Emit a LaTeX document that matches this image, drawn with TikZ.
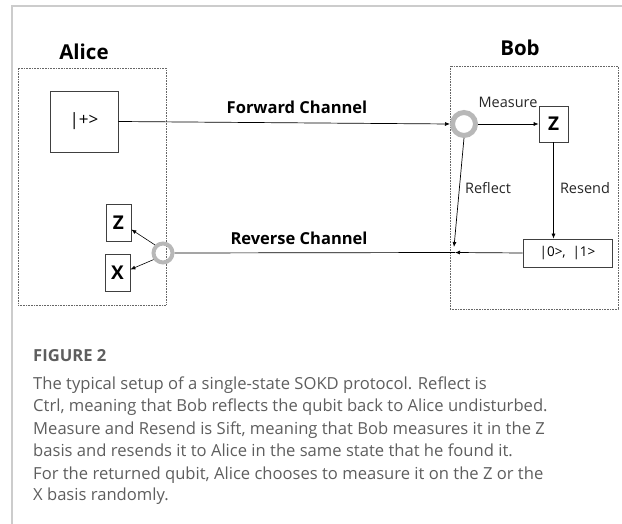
\documentclass[tikz,border=0pt]{standalone}
\usepackage{fontspec}
\setmainfont{Open Sans}
\newfontfamily\capfont{Open Sans}
\usetikzlibrary{arrows.meta}
\definecolor{capgray}{HTML}{5E5E5E}
\definecolor{framegray}{HTML}{CCCCCC}
\definecolor{ringgray}{HTML}{B8B8B8}
\tikzset{
  x=1pt, y=-1pt,
  party/.style={draw=black!60, densely dotted, line width=0.6pt},
  sbox/.style={draw=black!75, line width=0.7pt, inner sep=0pt},
  ring/.style={circle, draw=ringgray, inner sep=0pt},
  arr/.style={-{Latex[length=5pt,width=4pt]}, line width=0.7pt},
  ln/.style={line width=0.7pt},
  title/.style={font=\fontsize{20.5}{22}\selectfont\bfseries},
  chan/.style={font=\fontsize{16.5}{18}\selectfont\bfseries},
  small/.style={font=\fontsize{14.5}{16}\selectfont, text=black!85},
  letter/.style={sbox, font=\fontsize{19}{21}\selectfont\bfseries},
  capline/.style={anchor=base west, inner sep=0pt, text=capgray, font=\capfont\fontsize{16.6}{20}\selectfont}
}
\begin{document}
\begin{tikzpicture}
\useasboundingbox (0,0) rectangle (622,524);
% card frame
\draw[framegray, line width=1.2pt] (622,6) -- (12,6) -- (12,524);
% party boxes
\node[party, minimum width=148pt, minimum height=237pt] (alicebox) at (92,186.5) {};
\node[party, minimum width=168pt, minimum height=243pt] (bobbox) at (534,187.5) {};
\node[title] (alice) at (84,52) {Alice};
\node[title] (bob) at (520,48) {Bob};
% Alice elements
\node[sbox, minimum width=68pt, minimum height=61pt, font=\fontsize{17}{19}\selectfont] (plus) at (84,121.5) {|+>};
\node[letter, minimum width=25pt, minimum height=37pt] (za) at (118.5,222.5) {Z};
\node[letter, minimum width=25pt, minimum height=37pt] (xa) at (117.5,272.5) {X};
\node[ring, minimum size=19pt, line width=4pt] (circA) at (163,253) {};
% Bob elements
\node[ring, minimum size=23pt, line width=5pt] (circB) at (464,124) {};
\node[letter, minimum width=29pt, minimum height=36pt] (zb) at (553.5,124) {Z};
\node[sbox, minimum width=89pt, minimum height=28pt, font=\fontsize{13.5}{15}\selectfont] (st) at (567.5,253) {|0>,\enspace|1>};
\coordinate (reflend) at (454,247);
\coordinate (revmid) at (455,252.5);
% labels
\node[chan] (fwd) at (297,107) {Forward Channel};
\node[chan] (rev) at (299,238) {Reverse Channel};
\node[small] (meas) at (508,102) {Measure};
\node[small] (refl) at (488,188) {Reflect};
\node[small] (resend) at (585,188) {Resend};
% connectors
\draw[arr] (plus.east) -- (circB.west);
\draw[arr] (circB.east) -- (zb.west);
\draw[arr] (circB.south) -- (reflend);
\draw[arr] (zb.south) -- (zb.south |- st.north);
\draw[arr] (st.west) -- (revmid);
\draw[ln] (revmid) -- (circA.east);
\draw[arr, line width=0.6pt] (circA.135) -- ([yshift=-7pt]za.east);
\draw[arr, line width=0.6pt] (circA.215) -- ([yshift=3pt]xa.east);
% caption
\node[capline, font=\capfont\fontsize{16.6}{20}\selectfont\bfseries] (fig) at (33,361) {FIGURE 2};
\node[capline] (c1) at (33,389) {The typical setup of a single-state SOKD protocol. Reflect is};
\node[capline] (c2) at (33,411.5) {Ctrl, meaning that Bob reflects the qubit back to Alice undisturbed.};
\node[capline] (c3) at (33,434) {Measure and Resend is Sift, meaning that Bob measures it in the Z};
\node[capline] (c4) at (33,456.5) {basis and resends it to Alice in the same state that he found it.};
\node[capline] (c5) at (33,479) {For the returned qubit, Alice chooses to measure it on the Z or the};
\node[capline] (c6) at (33,500) {X basis randomly.};
\end{tikzpicture}
\end{document}
